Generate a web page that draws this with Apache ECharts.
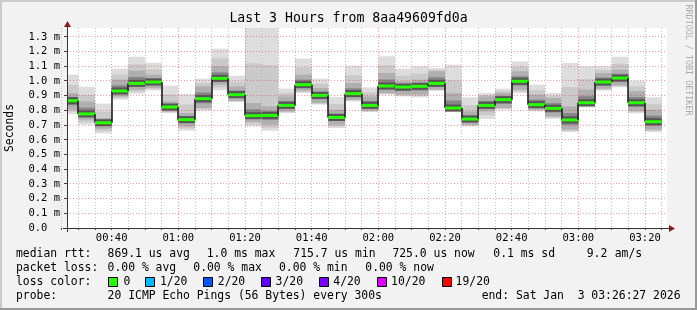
<!DOCTYPE html>
<html>
<head>
<meta charset="utf-8">
<script src="https://cdn.jsdelivr.net/npm/echarts@6/dist/echarts.min.js"></script>
<style>
html,body{margin:0;padding:0;background:#f2f2f2;}
#chart{width:697px;height:310px;}
</style>
</head>
<body>
<div id="chart"></div>
<script>
// ---- data (milliseconds) ----
const barStart = ['00:25','00:30','00:35','00:40','00:45','00:50','00:55','01:00','01:05','01:10','01:15','01:20','01:25','01:30','01:35','01:40','01:45','01:50','01:55','02:00','02:05','02:10','02:15','02:20','02:25','02:30','02:35','02:40','02:45','02:50','02:55','03:00','03:05','03:10','03:15','03:20'];
const pingMax = [1.043,0.961,0.846,1.084,1.165,1.124,0.968,0.911,1.016,1.22,1.036,1.45,1.45,0.948,1.152,1.016,0.891,1.104,0.957,1.168,1.084,1.10,1.088,1.111,0.889,0.918,0.948,1.134,0.975,0.918,1.122,1.10,1.10,1.165,1.002,0.889];
const pingHi  = [0.918,0.861,0.748,1.009,1.07,1.043,0.861,0.782,0.963,1.10,0.963,0.85,0.827,0.895,1.043,0.952,0.805,0.986,0.895,1.054,0.998,1.009,1.066,0.918,0.793,0.895,0.918,1.066,0.907,0.884,0.827,0.941,1.054,1.077,0.93,0.805];
const pingMed = [0.866,0.776,0.716,0.932,0.984,0.993,0.823,0.737,0.880,1.018,0.907,0.764,0.766,0.834,0.975,0.902,0.752,0.914,0.834,0.966,0.959,0.964,0.984,0.816,0.741,0.834,0.873,0.998,0.839,0.814,0.735,0.852,0.993,1.020,0.852,0.723];
const pingLo  = [0.805,0.737,0.675,0.895,0.94,0.952,0.793,0.691,0.816,0.975,0.866,0.72,0.703,0.793,0.934,0.85,0.703,0.873,0.798,0.918,0.907,0.907,0.941,0.798,0.703,0.793,0.816,0.941,0.805,0.759,0.669,0.827,0.948,0.970,0.798,0.669];
const pingMin = [0.776,0.703,0.644,0.873,0.914,0.936,0.782,0.662,0.798,0.936,0.857,0.691,0.662,0.782,0.918,0.839,0.680,0.861,0.789,0.907,0.895,0.889,0.934,0.789,0.691,0.741,0.805,0.918,0.793,0.743,0.653,0.820,0.934,0.957,0.780,0.653];
const xLabels = ['00:40','01:00','01:20','01:40','02:00','02:20','02:40','03:00','03:20'];
const yTicks = [0.0,0.1,0.2,0.3,0.4,0.5,0.6,0.7,0.8,0.9,1.0,1.1,1.2,1.3];
const stepEnd = '03:25';
const lossColors = ['#26ff00','#00b8ff','#0059ff','#5e00ff','#7e00ff','#dd00ff','#ff0000'];
const lossLabels = ['0','1/20','2/20','3/20','4/20','10/20','19/20'];

const toMin = s => { const p = s.split(':'); return (+p[0])*60 + (+p[1]); };
const fmtMin = m => { const h = Math.floor(m/60), mm = Math.round(m%60); return String(h).padStart(2,'0')+':'+String(mm).padStart(2,'0'); };
const STEP = 5;
const X_MIN = 26.6, X_MAX = 206.6, Y_MAX = 1.3605;

const majorX = xLabels.map(toMin);
const minorX = barStart.concat([stepEnd]).map(toMin).filter(m => majorX.indexOf(m) < 0);

const MONO = '"DejaVu Sans Mono", monospace';

function smokeItem(params, api) {
  const i = api.value(0);
  const s = toMin(barStart[i]);
  const x0 = api.coord([s, 0])[0], x1 = api.coord([s + STEP, 0])[0];
  const y = v => api.coord([s, v])[1];
  const yMax = y(pingMax[i]), yHi = y(pingHi[i]), yMed = y(pingMed[i]), yLo = y(pingLo[i]), yMin = y(pingMin[i]);
  const w = x1 - x0;
  const midTop = yMax + (yHi - yMax) * 0.55, midBot = yMin - (yMin - yLo) * 0.5;
  const innerTop = yHi + (yMed - yHi) * 0.5, innerBot = yLo - (yLo - yMed) * 0.5;
  return {
    type: 'group',
    children: [
      {type:'rect', shape:{x:x0, y:yMax, width:w, height:yMin-yMax}, style:{fill:'#dddddd'}},
      {type:'rect', shape:{x:x0, y:midTop, width:w, height:midBot-midTop}, style:{fill:'#cacaca'}},
      {type:'rect', shape:{x:x0, y:yHi, width:w, height:yLo-yHi}, style:{fill:'#afafaf'}},
      {type:'rect', shape:{x:x0, y:innerTop, width:w, height:innerBot-innerTop}, style:{fill:'#858585'}},
      {type:'rect', shape:{x:x0, y:yMed-3.5, width:w, height:7}, style:{fill:'#555555'}}
    ]
  };
}

function medianItem(params, api) {
  const i = api.value(0);
  const s = toMin(barStart[i]);
  const x0 = api.coord([s, 0])[0], x1 = api.coord([s + STEP, 0])[0];
  const yMed = api.coord([s, pingMed[i]])[1];
  const children = [];
  if (i > 0) {
    const yPrev = api.coord([s, pingMed[i-1]])[1];
    const xs = Math.round(x0);
    children.push({type:'line', shape:{x1:xs, y1:yPrev, x2:xs, y2:yMed}, style:{stroke:'#202020', lineWidth:1.6}});
  }
  children.push({type:'rect', shape:{x:x0, y:yMed-1.5, width:x1-x0, height:3}, style:{fill:lossColors[0]}});
  return {type:'group', children};
}

function vGridItem(color) {
  return function(params, api) {
    const m = api.value(0);
    const x = Math.floor(api.coord([m, 0])[0]) + 0.5;
    const yb = api.coord([m, 0])[1], yt = api.coord([m, Y_MAX])[1];
    return {type:'group', children:[
      {type:'line', shape:{x1:x, y1:yt, x2:x, y2:yb}, style:{stroke:color, lineWidth:1, lineDash:[1,2]}},
      {type:'line', shape:{x1:x, y1:yb, x2:x, y2:yb+2}, style:{stroke:'#404040', lineWidth:1}}
    ]};
  };
}
function hGridItem(params, api) {
  const v = api.value(0);
  const y = Math.floor(api.coord([X_MIN, v])[1]) + 0.5;
  const xl = api.coord([X_MIN, v])[0], xr = api.coord([X_MAX, v])[0];
  return {type:'group', children:[
    {type:'line', shape:{x1:xl, y1:y, x2:xr, y2:y}, style:{stroke:'rgba(220,0,0,0.38)', lineWidth:1, lineDash:[1,2]}},
    {type:'line', shape:{x1:xl-3, y1:y, x2:xl, y2:y}, style:{stroke:'#404040', lineWidth:1}}
  ]};
}

const chart = echarts.init(document.getElementById('chart'), null, {renderer:'canvas'});

const txt = (x, y, text, extra) => Object.assign({
  type:'text', x, y, silent:true,
  style:{text, fill:'#000', font:'11.4px ' + MONO, textVerticalAlign:'middle', textAlign:'left'}
}, extra || {});

const graphics = [
  {type:'rect', shape:{x:0,y:0,width:697,height:2}, style:{fill:'#cbcbcb'}, silent:true},
  {type:'rect', shape:{x:0,y:0,width:2,height:310}, style:{fill:'#cbcbcb'}, silent:true},
  {type:'rect', shape:{x:0,y:308,width:697,height:2}, style:{fill:'#999999'}, silent:true},
  {type:'rect', shape:{x:695,y:0,width:2,height:310}, style:{fill:'#999999'}, silent:true},
  {type:'line', shape:{x1:67.5,y1:232,x2:67.5,y2:25}, style:{stroke:'#333',lineWidth:1}, silent:true, z:10},
  {type:'polygon', shape:{points:[[67.5,21],[64,27],[71,27]]}, style:{fill:'#8b1a1a'}, silent:true, z:10},
  {type:'line', shape:{x1:63,y1:228.5,x2:671,y2:228.5}, style:{stroke:'#333',lineWidth:1}, silent:true, z:10},
  {type:'polygon', shape:{points:[[675,228.5],[669,225],[669,232]]}, style:{fill:'#8b1a1a'}, silent:true, z:10},
  {type:'text', x:348.5, y:18.5, silent:true, style:{text:'Last 3 Hours from 8aa49609fd0a', fill:'#000', font:'13.2px '+MONO, textAlign:'center', textVerticalAlign:'middle'}},
  {type:'text', x:10, y:128, rotation:Math.PI/2, silent:true, style:{text:'Seconds', fill:'#000', font:'11.4px '+MONO, textAlign:'center', textVerticalAlign:'middle'}},
  {type:'text', x:688, y:60, rotation:-Math.PI/2, silent:true, style:{text:'RRDTOOL / TOBI OETIKER', fill:'#aaaaaa', font:'8.4px '+MONO, textAlign:'center', textVerticalAlign:'middle'}},
  txt(16, 254.5, 'median rtt:'),
  txt(107.6, 254.5, '869.1 us avg'),
  txt(206.7, 254.5, '1.0 ms max'),
  txt(293.3, 254.5, '715.7 us min'),
  txt(392.4, 254.5, '725.0 us now'),
  txt(493.3, 254.5, '0.1 ms sd'),
  txt(586.7, 254.5, '9.2'),
  txt(614.7, 254.5, 'am/s'),
  txt(16, 268.5, 'packet loss:'),
  txt(107.6, 268.5, '0.00 % avg'),
  txt(193.3, 268.5, '0.00 % max'),
  txt(279, 268.5, '0.00 % min'),
  txt(365.3, 268.5, '0.00 % now'),
  txt(16, 282.5, 'loss color:'),
  txt(16, 296.5, 'probe:'),
  txt(107.6, 296.5, '20 ICMP Echo Pings (56 Bytes) every 300s'),
  {type:'text', x:680.5, y:296.5, silent:true, style:{text:'end: Sat Jan  3 03:26:27 2026', fill:'#000', font:'11.4px '+MONO, textAlign:'right', textVerticalAlign:'middle'}}
];
const boxX = [108.5, 145.5, 203.5, 261.5, 319.5, 377.5, 442.5];
const lblX = [123.6, 160.0, 217.8, 275.6, 333.3, 391.1, 455.6];
lossLabels.forEach((l, k) => {
  graphics.push({type:'rect', shape:{x:boxX[k], y:277.5, width:9, height:9}, style:{fill:lossColors[k], stroke:'#000', lineWidth:1}, silent:true});
  graphics.push(txt(lblX[k], 282.5, l));
});

const idx = barStart.map((_, i) => [i]);

chart.setOption({
  backgroundColor:'#f2f2f2',
  animation:false,
  grid:{left:67, right:30, top:28, bottom:82, show:true, backgroundColor:'#ffffff', borderWidth:0, containLabel:false},
  xAxis:{
    type:'value', min:X_MIN, max:X_MAX,
    axisLine:{show:false}, axisTick:{show:false}, splitLine:{show:false},
    axisLabel:{customValues:majorX, formatter:v => fmtMin(v), color:'#000', fontFamily:'DejaVu Sans Mono', fontSize:10.5, margin:5}
  },
  yAxis:{
    type:'value', min:0, max:Y_MAX, interval:0.1,
    axisLine:{show:false}, axisTick:{show:false}, splitLine:{show:false},
    axisLabel:{showMaxLabel:false, color:'#000', fontFamily:'DejaVu Sans Mono', fontSize:10.5, margin:7,
      formatter:v => { const r = Math.round(v*10)/10; if (Math.abs(v - r) > 1e-6) return ''; return r === 0 ? '0.0  ' : r.toFixed(1) + ' m'; }}
  },
  graphic: graphics,
  series:[
    {type:'custom', name:'smoke', renderItem:smokeItem, data:idx, clip:true, z:1, silent:true},
    {type:'custom', name:'minorGrid', renderItem:vGridItem('rgba(120,120,120,0.45)'), data:minorX.map(v=>[v]), clip:false, z:2, silent:true},
    {type:'custom', name:'majorGrid', renderItem:vGridItem('rgba(220,0,0,0.38)'), data:majorX.map(v=>[v]), clip:false, z:2, silent:true},
    {type:'custom', name:'hGrid', renderItem:hGridItem, data:yTicks.filter(v=>v>0).map(v=>[v]), clip:false, z:2, silent:true},
    {type:'custom', name:'median', renderItem:medianItem, data:idx, clip:true, z:3, silent:true}
  ]
});
</script>
</body>
</html>
